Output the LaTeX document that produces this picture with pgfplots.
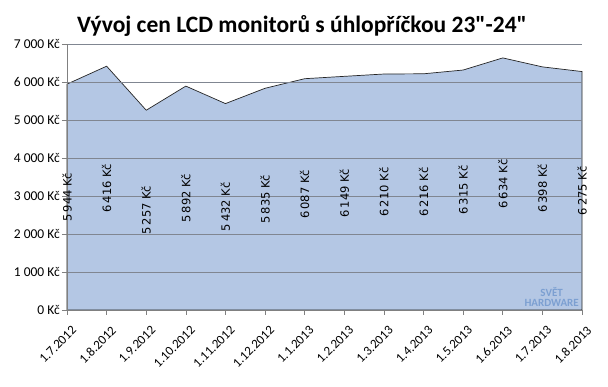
\documentclass[border=0pt]{standalone}
\usepackage{fontspec}
\setmainfont{Carlito}
\newfontfamily\titlefont{Carlito}[Ligatures=ResetAll]
\newfontfamily\lblfont{DejaVu Sans}
\usepackage{pgfplots}
\pgfplotsset{compat=1.18}
\usepackage{pgfplotstable}
\definecolor{areafill}{RGB}{180,199,228}
\definecolor{gridc}{RGB}{128,134,145}
\definecolor{wmark}{RGB}{110,150,205}
\pgfplotstableread{
x y half
0 5944 2972
1 6416 3208
2 5257 2628.5
3 5892 2946
4 5432 2716
5 5835 2917.5
6 6087 3043.5
7 6149 3074.5
8 6210 3105
9 6216 3108
10 6315 3157.5
11 6634 3317
12 6398 3199
13 6275 3137.5
}\prices
\begin{document}
\begin{tikzpicture}
\useasboundingbox (-67pt,-77pt) rectangle (541pt,310pt);
\begin{axis}[
  at={(0,0)}, anchor=south west,
  scale only axis, width=515pt, height=266pt,
  xmin=0, xmax=13, ymin=0, ymax=7000,
  xtick={0,...,13},
  xticklabels={1.7.2012,1.8.2012,1.9.2012,1.10.2012,1.11.2012,1.12.2012,1.1.2013,1.2.2013,1.3.2013,1.4.2013,1.5.2013,1.6.2013,1.7.2013,1.8.2013},
  x tick label style={font=\fontsize{13}{14}\selectfont, inner sep=0pt, xshift=4pt, yshift=-10pt, rotate=45, anchor=north east},
  ytick={0,1000,...,7000},
  yticklabels={0 Kč,1 000 Kč,2 000 Kč,3 000 Kč,4 000 Kč,5 000 Kč,6 000 Kč,7 000 Kč},
  y tick label style={font=\fontsize{13.5}{14}\selectfont, inner sep=2pt},
  ymajorgrids, major grid style={gridc, line width=0.6pt},
  axis on top,
  axis x line*=bottom, axis y line*=left,
  axis line style={gray, line width=0.6pt, -},
  tick style={gray, line width=0.6pt},
  tick align=outside, major tick length=5pt,
  /pgf/number format/assume math mode=true,
  clip=false,
]
\addplot[fill=areafill, draw=black!85, line width=0.7pt] table[x=x,y=y] {\prices} \closedcycle;
\addplot[draw=none, mark=none,
  point meta=explicit,
  nodes near coords={\pgfmathprintnumber[1000 sep={\,}]{\pgfplotspointmeta}~Kč},
  nodes near coords style={rotate=90, anchor=center, font=\lblfont\fontsize{11.5}{13}\selectfont, inner sep=0pt}
] table[x=x,y=half,meta=y] {\prices};
\node[font=\titlefont\bfseries\fontsize{23.5}{26}\selectfont, anchor=base] at (235pt,277pt) {Vývoj cen LCD monitorů s úhlopříčkou 23"-24"};
\node[font=\bfseries\fontsize{11}{10}\selectfont, text=wmark, anchor=south east, align=center, inner sep=0pt, opacity=0.8] at (512pt,3pt) {SVĚT\\HARDWARE};
\end{axis}
\end{tikzpicture}
\end{document}
